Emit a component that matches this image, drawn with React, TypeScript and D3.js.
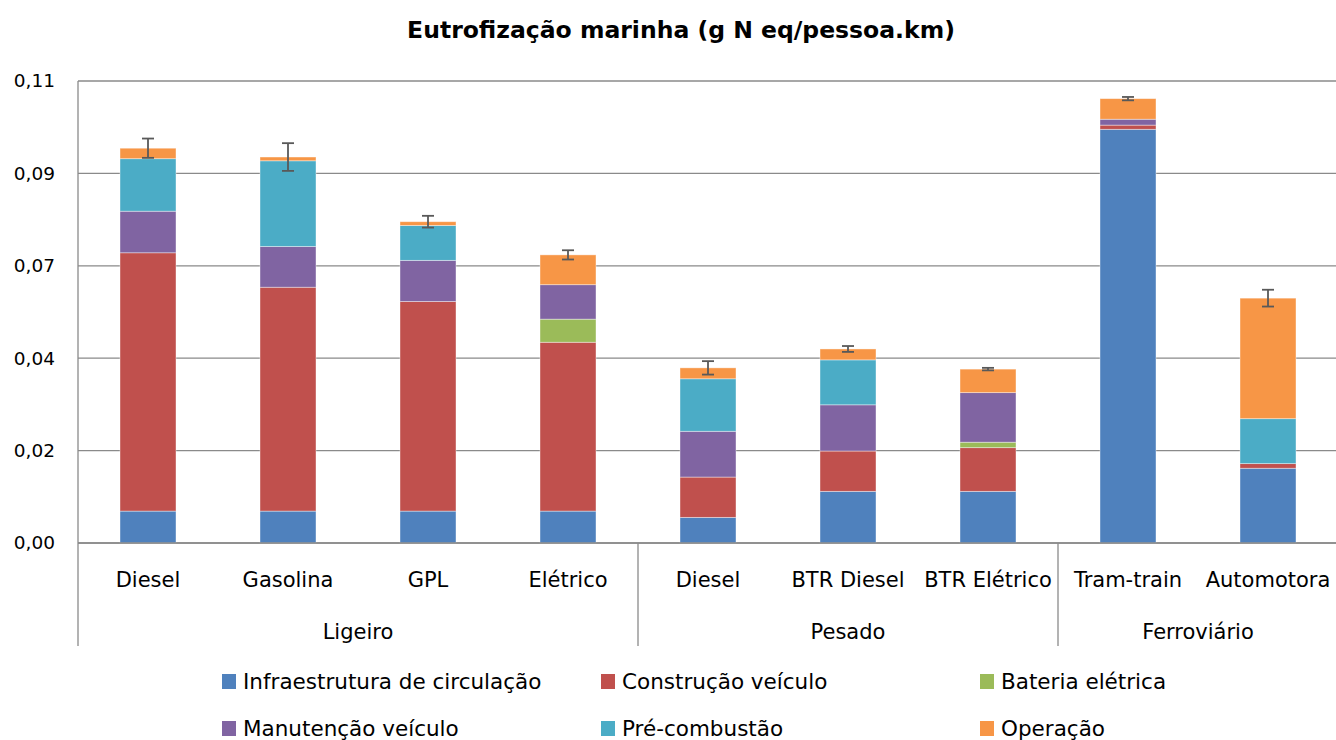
import React, { useMemo } from 'react';
import * as d3 from 'd3';

// categories (bottom level) and their groups (second level)
const categories = ['Diesel', 'Gasolina', 'GPL', 'Elétrico', 'Diesel', 'BTR Diesel', 'BTR Elétrico', 'Tram-train', 'Automotora'];
const groups = [
    { name: 'Ligeiro', start: 0, end: 3 },
    { name: 'Pesado', start: 4, end: 6 },
    { name: 'Ferroviário', start: 7, end: 8 },
];

const seriesNames = ['Infraestrutura de circulação', 'Construção veículo', 'Bateria elétrica', 'Manutenção veículo', 'Pré-combustão', 'Operação'];
const seriesColors = ['#4F81BD', '#C0504D', '#9BBB59', '#8064A2', '#4BACC6', '#F79646'];

// values per series, in category order
const infraestrutura = [0.0076, 0.0076, 0.0076, 0.0076, 0.0061, 0.0123, 0.0123, 0.0985, 0.0178];
const construcao = [0.0615, 0.0533, 0.0499, 0.0402, 0.0096, 0.0096, 0.0104, 0.0010, 0.0011];
const bateria = [0, 0, 0, 0.0055, 0, 0, 0.0013, 0, 0];
const manutencao = [0.0099, 0.0097, 0.0098, 0.0082, 0.0109, 0.0110, 0.0118, 0.0014, 0];
const precombustao = [0.0125, 0.0204, 0.0083, 0, 0.0125, 0.0107, 0, 0, 0.0107];
const operacao = [0.0025, 0.0009, 0.0009, 0.0071, 0.0026, 0.0026, 0.0056, 0.0049, 0.0287];
const errors = [0.0023, 0.0033, 0.0014, 0.0011, 0.0016, 0.0007, 0.0003, 0.0004, 0.0020];

const yTicks = [0, 0.022, 0.044, 0.066, 0.088, 0.11];

const FONT = "'DejaVu Sans', sans-serif";
const W = 1336;
const H = 740;
const left = 78, right = 1338, top = 81, bottom = 543;

export default function App() {
    const seriesValues = [infraestrutura, construcao, bateria, manutencao, precombustao, operacao];

    const { x, y, stacked, rows } = useMemo(() => {
        const x = d3.scaleBand<number>()
            .domain(d3.range(categories.length))
            .range([left, right])
            .paddingInner(0.6)
            .paddingOuter(0.3);
        const y = d3.scaleLinear().domain([0, 0.11]).range([bottom, top]);
        const rows = categories.map((_, i) => {
            const r: Record<string, number> = { idx: i };
            seriesNames.forEach((s, k) => { r[s] = seriesValues[k][i]; });
            return r;
        });
        const stacked = d3.stack<Record<string, number>>().keys(seriesNames)(rows);
        return { x, y, stacked, rows };
    }, []);

    const fmt = (v: number) => d3.format('.2f')(v).replace('.', ',');
    const totals = rows.map(r => d3.sum(seriesNames, s => r[s]));
    const step = x.step();
    const sepX = (i: number) => left + i * step;

    return (
        <svg width={W} height={H} style={{ position: 'absolute', left: 0, top: 0, background: '#fff' }}>
            <text x={681} y={38} textAnchor="middle" fontFamily={FONT} fontWeight="bold" fontSize={23.5} fill="#000">
                Eutrofização marinha (g N eq/pessoa.km)
            </text>

            {/* gridlines */}
            {yTicks.map(t => (
                <g key={t}>
                    <line x1={left} x2={right} y1={y(t)} y2={y(t)} stroke="#8a8a8a" strokeWidth={1.3} />
                    <text x={55} y={y(t)} dy="0.35em" textAnchor="end" fontFamily={FONT} fontSize={18.5} fill="#000">{fmt(t)}</text>
                </g>
            ))}

            {/* bars */}
            {stacked.map((layer, k) => (
                <g key={layer.key} fill={seriesColors[k]}>
                    {layer.map((d, i) => d[1] - d[0] > 0 ? (
                        <rect key={i} x={x(i)} width={x.bandwidth()} y={y(d[1])} height={y(d[0]) - y(d[1])}
                            stroke="#ffffff" strokeOpacity={0.5} strokeWidth={0.8} />
                    ) : null)}
                </g>
            ))}

            {/* error bars */}
            {totals.map((t, i) => {
                const cx = (x(i) as number) + x.bandwidth() / 2;
                const y1 = y(t + errors[i]), y2 = y(t - errors[i]);
                return (
                    <g key={i} stroke="#595959" strokeWidth={1.8}>
                        <line x1={cx} x2={cx} y1={y1} y2={y2} />
                        <line x1={cx - 6} x2={cx + 6} y1={y1} y2={y1} />
                        <line x1={cx - 6} x2={cx + 6} y1={y2} y2={y2} />
                    </g>
                );
            })}

            {/* axes */}
            <line x1={left} x2={left} y1={top} y2={bottom} stroke="#8a8a8a" strokeWidth={1.3} />
            <line x1={left} x2={right} y1={bottom} y2={bottom} stroke="#8a8a8a" strokeWidth={1.5} />
            {[0, ...groups.map(g => g.end + 1)].map(i => (
                <line key={i} x1={sepX(i)} x2={sepX(i)} y1={bottom} y2={646} stroke="#8a8a8a" strokeWidth={1.3} />
            ))}

            {categories.map((c, i) => (
                <text key={i} x={(x(i) as number) + x.bandwidth() / 2} y={587} textAnchor="middle"
                    fontFamily={FONT} fontSize={21} fill="#000">{c}</text>
            ))}
            {groups.map(g => (
                <text key={g.name} x={(sepX(g.start) + sepX(g.end + 1)) / 2} y={639} textAnchor="middle"
                    fontFamily={FONT} fontSize={21} fill="#000">{g.name}</text>
            ))}

            {/* legend */}
            {seriesNames.map((s, k) => {
                const col = k % 3, row = Math.floor(k / 3);
                const lx = [222, 601, 980][col];
                const ly = [681.5, 728.5][row];
                return (
                    <g key={s}>
                        <rect x={lx} y={ly - 7.5} width={14} height={15} fill={seriesColors[k]} />
                        <text x={lx + 21} y={ly} dy="0.36em" fontFamily={FONT} fontSize={21.5} fill="#000">{s}</text>
                    </g>
                );
            })}
        </svg>
    );
}
